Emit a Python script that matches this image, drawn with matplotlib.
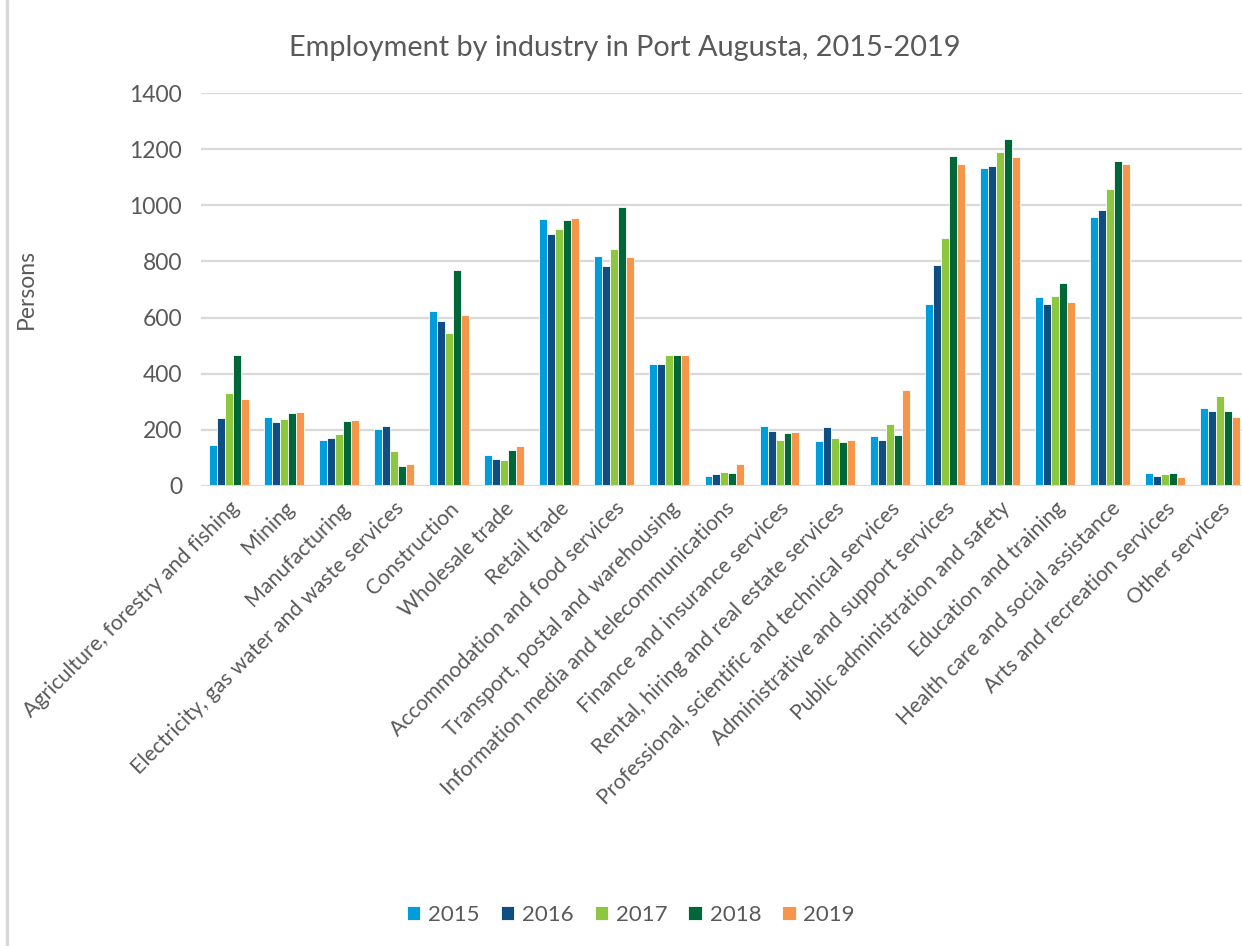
import numpy as np
import matplotlib
matplotlib.use("Agg")
import matplotlib.pyplot as plt
from matplotlib.patches import Rectangle

# employment counts per industry, Port Augusta
industries = [
    "Agriculture, forestry and fishing",
    "Mining",
    "Manufacturing",
    "Electricity, gas water and waste services",
    "Construction",
    "Wholesale trade",
    "Retail trade",
    "Accommodation and food services",
    "Transport, postal and warehousing",
    "Information media and telecommunications",
    "Finance and insurance services",
    "Rental, hiring and real estate services",
    "Professional, scientific and technical services",
    "Administrative and support services",
    "Public administration and safety",
    "Education and training",
    "Health care and social assistance",
    "Arts and recreation services",
    "Other services",
]
years = ["2015", "2016", "2017", "2018", "2019"]

y2015 = [145, 244, 162, 201, 624, 109, 952, 820, 433, 36, 214, 159, 177, 649, 1135, 674, 960, 45, 277]
y2016 = [240, 227, 169, 212, 589, 95, 897, 783, 433, 42, 196, 209, 162, 787, 1141, 649, 983, 36, 267]
y2017 = [331, 237, 184, 123, 545, 92, 917, 843, 468, 49, 162, 170, 221, 884, 1189, 677, 1059, 40, 320]
y2018 = [465, 258, 230, 70, 768, 127, 947, 996, 468, 45, 187, 157, 180, 1175, 1236, 722, 1159, 45, 267]
y2019 = [308, 264, 233, 77, 609, 142, 956, 815, 468, 77, 192, 163, 340, 1148, 1172, 656, 1146, 30, 246]
series = [y2015, y2016, y2017, y2018, y2019]

colors = ["#009DDC", "#0E4E82", "#8DC63F", "#006838", "#F7964A"]
text_col = "#595959"
grid_col = "#D9D9D9"

plt.rcParams["font.family"] = ["Lato", "DejaVu Sans"]

fig = plt.figure(figsize=(12.42, 9.46), dpi=100)
ax = fig.add_axes([0.1622, 0.4866, 0.8422, 0.4148])

x = np.arange(len(industries))
w = 0.145
for i, vals in enumerate(series):
    ax.bar(x + (i - 2) * w, vals, width=w, color=colors[i],
           edgecolor="white", linewidth=0.6, label=years[i], zorder=3)

ax.set_xlim(-0.5, len(industries) - 0.5)
ax.set_ylim(0, 1400)
ax.set_yticks(range(0, 1401, 200))
ax.yaxis.grid(True, color=grid_col, linewidth=1.6, zorder=0)
ax.axhline(0, color=grid_col, linewidth=2.2, zorder=4)
for s in ax.spines.values():
    s.set_visible(False)
ax.tick_params(axis="both", length=0, colors=text_col)
ax.tick_params(axis="y", labelsize=16.5, pad=14)

ax.set_xticks(x)
ax.set_xticklabels(industries, rotation=45, ha="right", va="top",
                   rotation_mode="anchor", fontsize=15.3, color=text_col)
ax.tick_params(axis="x", pad=9)

fig.text(0.503, 0.949, "Employment by industry in Port Augusta, 2015-2019",
         ha="center", va="center", fontsize=20.8, color=text_col)
fig.text(0.021, 0.6945, "Persons", rotation=90, ha="center", va="center",
         fontsize=16.5, color=text_col)

leg = fig.legend(loc="center", bbox_to_anchor=(0.508, 0.033), ncol=5,
                 frameon=False, fontsize=16, handlelength=0.6, handleheight=0.6,
                 handletextpad=0.35, columnspacing=0.95, labelcolor=text_col)

# thin outline on the left side of the chart frame
fig.patches.append(Rectangle((0.0048, 0), 0.002, 1, transform=fig.transFigure,
                             color=grid_col, zorder=0))

fig.savefig("out.png", dpi=100, facecolor="white")
